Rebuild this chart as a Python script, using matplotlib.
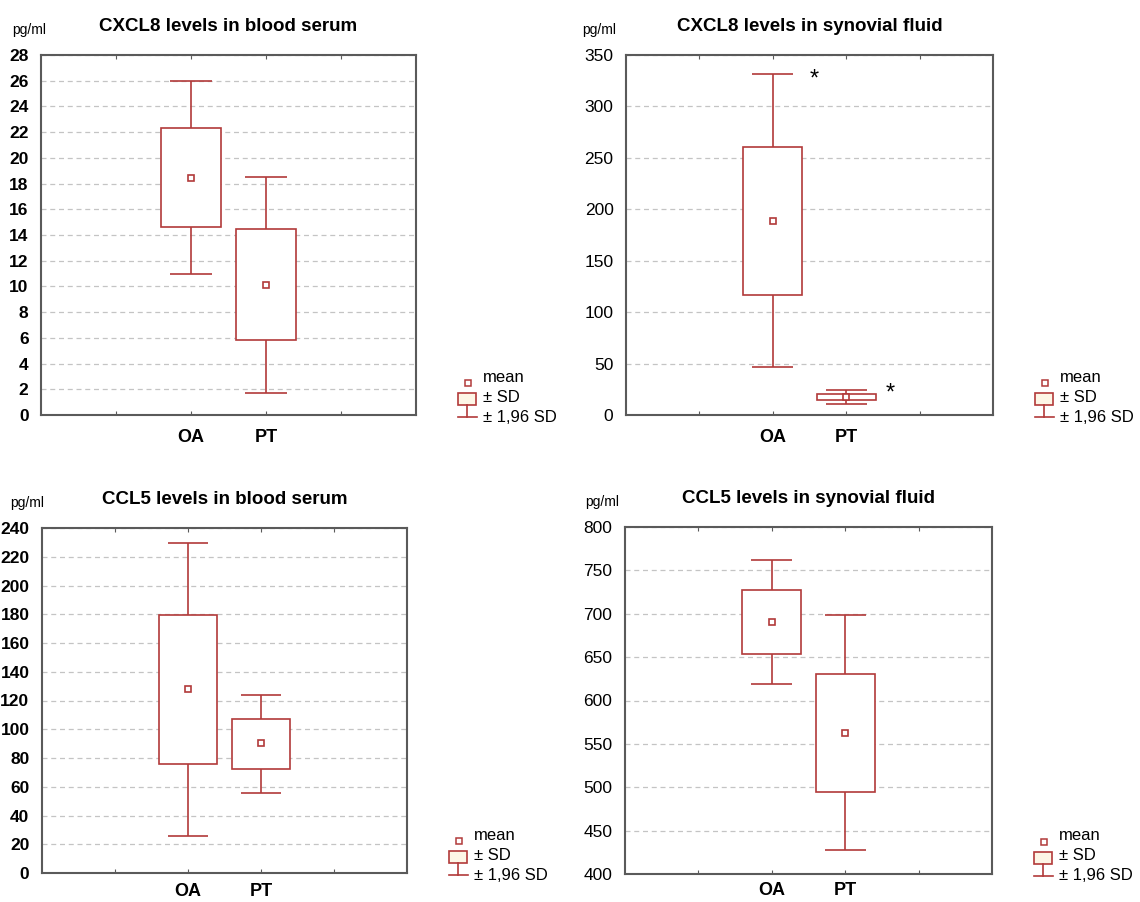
import numpy as np
import matplotlib
matplotlib.use("Agg")
import matplotlib.pyplot as plt
from matplotlib.patches import Rectangle
from matplotlib.lines import Line2D
from matplotlib.transforms import ScaledTranslation, Affine2D

plt.rcParams['font.family'] = ['Liberation Sans', 'DejaVu Sans']

groups = ['OA', 'PT']

# mean, mean-SD, mean+SD, mean-1.96SD, mean+1.96SD
cxcl8_serum_mean = [18.45, 10.15]
cxcl8_serum_sd_lo = [14.65, 5.85]
cxcl8_serum_sd_hi = [22.3, 14.45]
cxcl8_serum_lo = [10.95, 1.75]
cxcl8_serum_hi = [25.95, 18.5]

cxcl8_syn_mean = [189, 17.5]
cxcl8_syn_sd_lo = [116.5, 14.5]
cxcl8_syn_sd_hi = [261, 20.7]
cxcl8_syn_lo = [47, 11]
cxcl8_syn_hi = [331.5, 24.3]

ccl5_serum_mean = [128, 90.5]
ccl5_serum_sd_lo = [76, 72.5]
ccl5_serum_sd_hi = [179.5, 107]
ccl5_serum_lo = [25.5, 56]
ccl5_serum_hi = [229.5, 124]

ccl5_syn_mean = [691, 563]
ccl5_syn_sd_lo = [654, 494]
ccl5_syn_sd_hi = [727, 631]
ccl5_syn_lo = [619, 428]
ccl5_syn_hi = [762, 698]

red = '#b23a3a'
frame = '#5a5a5a'

fig = plt.figure(figsize=(11.4, 9.02), dpi=100)


def px(ax, dx, dy):
    # offset in pixels from an axes-fraction anchor
    return ax.transAxes + ScaledTranslation(dx / 100, dy / 100, fig.dpi_scale_trans)


def corner(ax):
    # pixel units, origin at the lower right corner of the axes
    return Affine2D().scale(1 / 100) + fig.dpi_scale_trans + ScaledTranslation(1, 0, ax.transAxes)


def panel(rect, title, mean, sd_lo, sd_hi, lo, hi, ylim, ystep, bold_ticks, pg_dx, xpad):
    ax = fig.add_axes(rect)
    x = np.array([2, 3])
    ax.bar(x, np.array(sd_hi) - np.array(sd_lo), bottom=sd_lo, width=0.8,
           facecolor='white', edgecolor=red, linewidth=1.2, zorder=3)
    ax.vlines(x, hi, sd_hi, color=red, lw=1.2, zorder=3)
    ax.vlines(x, lo, sd_lo, color=red, lw=1.2, zorder=3)
    ax.hlines(hi, x - 0.28, x + 0.28, color=red, lw=1.2, zorder=3)
    ax.hlines(lo, x - 0.28, x + 0.28, color=red, lw=1.2, zorder=3)
    ax.plot(x, mean, 's', ms=4.5, mfc='white', mec=red, mew=1.2, zorder=4)

    ax.set_xlim(0, 5)
    ax.set_ylim(*ylim)
    ax.set_yticks(np.arange(ylim[0], ylim[1] + ystep / 2, ystep))
    ax.set_xticks([1, 2, 3, 4])
    ax.set_xticklabels(['', 'OA', 'PT', ''], fontsize=13, fontweight='bold')
    ax.tick_params(axis='x', direction='in', top=True, length=3, pad=xpad, color=frame)
    ax.tick_params(axis='y', direction='in', length=0, pad=9, labelsize=12.5)
    for lab in ax.get_yticklabels():
        lab.set_fontweight('bold' if bold_ticks else 'normal')
    ax.yaxis.grid(True, color='#c4c4c4', lw=0.9, dashes=(4, 3))
    ax.set_axisbelow(True)
    for s in ax.spines.values():
        s.set_color(frame)
        s.set_linewidth(1.5)
    ax.set_title(title, fontsize=13.5, fontweight='bold', pad=17)
    ax.text(0, 1, 'pg/ml', transform=px(ax, pg_dx, 25), fontsize=10,
            ha='left', va='center')

    # legend at lower right, outside the frame
    tr = corner(ax)
    ax.add_patch(Rectangle((49, 29), 6, 6, transform=tr,
                           fill=False, ec=red, lw=1.1, clip_on=False))
    ax.add_patch(Rectangle((42, 10), 18, 12, transform=tr,
                           fc='#fdf6e6', ec=red, lw=1.2, clip_on=False))
    ax.add_line(Line2D([51, 51], [10, -2], transform=tr,
                       color=red, lw=1.2, clip_on=False))
    ax.add_line(Line2D([42, 61], [-2, -2], transform=tr,
                       color=red, lw=1.2, clip_on=False))
    ax.text(67, 38, 'mean', transform=tr, fontsize=12, va='center')
    ax.text(67, 18, '± SD', transform=tr, fontsize=12, va='center')
    ax.text(67, -2, '± 1,96 SD', transform=tr, fontsize=12, va='center')
    return ax


ax1 = panel([41 / 1140, 1 - 415 / 902, 375 / 1140, 360 / 902],
            'CXCL8 levels in blood serum', cxcl8_serum_mean, cxcl8_serum_sd_lo,
            cxcl8_serum_sd_hi, cxcl8_serum_lo, cxcl8_serum_hi, (0, 28), 2, True, -29, 10)
ax2 = panel([626 / 1140, 1 - 415 / 902, 367 / 1140, 360 / 902],
            'CXCL8 levels in synovial fluid', cxcl8_syn_mean, cxcl8_syn_sd_lo,
            cxcl8_syn_sd_hi, cxcl8_syn_lo, cxcl8_syn_hi, (0, 350), 50, False, -44, 10)
ax3 = panel([42 / 1140, 1 - 873 / 902, 365 / 1140, 345 / 902],
            'CCL5 levels in blood serum', ccl5_serum_mean, ccl5_serum_sd_lo,
            ccl5_serum_sd_hi, ccl5_serum_lo, ccl5_serum_hi, (0, 240), 20, True, -32, 7)
ax4 = panel([625 / 1140, 1 - 874 / 902, 367 / 1140, 347 / 902],
            'CCL5 levels in synovial fluid', ccl5_syn_mean, ccl5_syn_sd_lo,
            ccl5_syn_sd_hi, ccl5_syn_lo, ccl5_syn_hi, (400, 800), 50, False, -40, 6)

ax2.text(2.57, 326, '*', fontsize=17, ha='center', va='center')
ax2.text(3.6, 21, '*', fontsize=17, ha='center', va='center')

fig.savefig('out.png', dpi=100)
